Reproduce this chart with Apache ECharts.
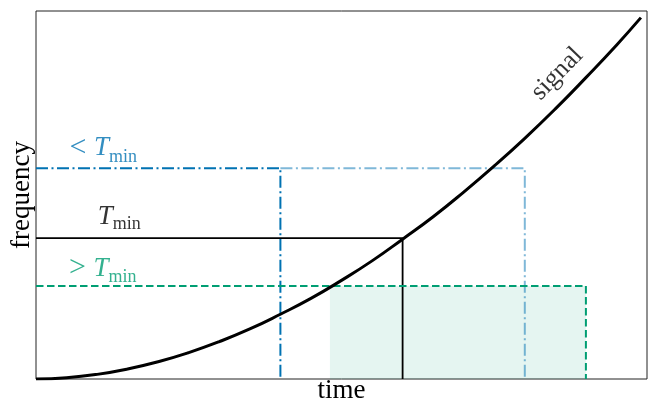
<!DOCTYPE html>
<html>
<head>
<meta charset="utf-8">
<script src="https://cdn.jsdelivr.net/npm/echarts@6/dist/echarts.min.js"></script>
<style>html,body{margin:0;padding:0;background:#fff}#c{width:649px;height:403px}</style>
</head>
<body>
<div id="c"></div>
<script>
// signal curve samples (time, frequency) on a 0..100 scale
var signalTime = [0, 5, 10, 15, 20, 25, 30, 35, 40, 45, 50, 55, 60, 65, 70, 75, 80, 85, 90, 95, 99];
var signalFreq = [0, 0.34, 1.26, 2.72, 4.7, 7.18, 10.15, 13.6, 17.6, 21.9, 26.8, 32.1, 38.0, 44.1, 50.8, 57.9, 65.4, 73.4, 81.9, 90.7, 98.2];

// threshold levels
var tLess = {freq: 57.3, tDark: 40, tLight: 80};
var tMin = {freq: 38.3, t: 60};
var tMore = {freq: 25.3, tStart: 48.1, tEnd: 90};

var blue = '#0072b2', lightBlue = 'rgba(0,114,178,0.5)', green = '#009e73';
var FONT = '"Liberation Serif", "DejaVu Serif", serif';

var curve = signalTime.map(function (t, i) { return [t, signalFreq[i]]; });

function tminRich(color) {
  return {
    op: {fontFamily: FONT, fontSize: 30, color: color, textBorderWidth: 0},
    t: {fontFamily: FONT, fontSize: 27, fontStyle: 'italic', color: color, textBorderWidth: 0},
    s: {fontFamily: FONT, fontSize: 18, color: color, textBorderWidth: 0, verticalAlign: 'bottom', padding: [0, 0, -3, 0]}
  };
}

var chart = echarts.init(document.getElementById('c'), null, {renderer: 'canvas'});
chart.setOption({
  animation: false,
  grid: {left: 36, top: 11, right: 2, bottom: 24, containLabel: false, outerBoundsMode: 'none',
    show: true, borderColor: '#222', borderWidth: 1, backgroundColor: 'transparent'},
  xAxis: {
    type: 'value', min: 0, max: 100,
    name: 'time', nameLocation: 'middle', nameGap: -2,
    nameTextStyle: {fontFamily: FONT, fontSize: 27, color: '#000'},
    axisLine: {show: false}, axisTick: {show: false}, axisLabel: {show: false}, splitLine: {show: false}
  },
  yAxis: {
    type: 'value', min: 0, max: 100,
    name: 'frequency', nameLocation: 'middle', nameGap: 1,
    nameTextStyle: {fontFamily: FONT, fontSize: 27, color: '#000'},
    axisLine: {show: false}, axisTick: {show: false}, axisLabel: {show: false}, splitLine: {show: false}
  },
  series: [
    {
      type: 'line', data: [[tMore.tStart, tMore.freq], [tMore.tEnd, tMore.freq]],
      symbol: 'none', lineStyle: {width: 0}, areaStyle: {color: 'rgba(0,158,115,0.1)', opacity: 1}, z: 1
    },
    {
      type: 'line', data: [[tLess.tDark, tLess.freq], [tLess.tLight, tLess.freq], [tLess.tLight, 0]],
      symbol: 'none', lineStyle: {color: lightBlue, width: 2, type: [12, 3.5, 2, 3.5]}, z: 2
    },
    {
      type: 'line', data: [[0, tLess.freq], [tLess.tDark, tLess.freq], [tLess.tDark, 0]],
      symbol: 'none', lineStyle: {color: blue, width: 2, type: [12, 3.5, 2, 3.5]}, z: 3
    },
    {
      type: 'line', data: [[0, tMin.freq], [tMin.t, tMin.freq], [tMin.t, 0]],
      symbol: 'none', lineStyle: {color: '#000', width: 1.8}, z: 3
    },
    {
      type: 'line', data: [[0, tMore.freq], [tMore.tEnd, tMore.freq], [tMore.tEnd, 0]],
      symbol: 'none', lineStyle: {color: green, width: 2, type: [7.5, 3.5]}, z: 3
    },
    {
      type: 'line', data: curve, smooth: true, symbol: 'none',
      lineStyle: {color: '#000', width: 3}, z: 5
    },
    {
      type: 'scatter', symbolSize: 0, z: 6, silent: true,
      data: [
        {value: [5.5, 62.7], label: {formatter: '{op|< }{t|T}{s|min}', rich: tminRich(blue)}},
        {value: [10.1, 44.0], label: {formatter: '{t|T}{s|min}', rich: tminRich('#000')}},
        {value: [5.4, 30.0], label: {formatter: '{op|> }{t|T}{s|min}', rich: tminRich(green)}}
      ],
      label: {show: true, position: 'right', distance: 0, textBorderWidth: 0}
    },
    {
      type: 'scatter', symbolSize: 0, z: 6, silent: true,
      data: [{value: [85.3, 82.9], label: {formatter: 'signal'}}],
      label: {show: true, position: 'inside', rotate: 46, fontFamily: FONT, fontSize: 26, color: '#000', textBorderWidth: 0}
    }
  ]
});
</script>
</body>
</html>
